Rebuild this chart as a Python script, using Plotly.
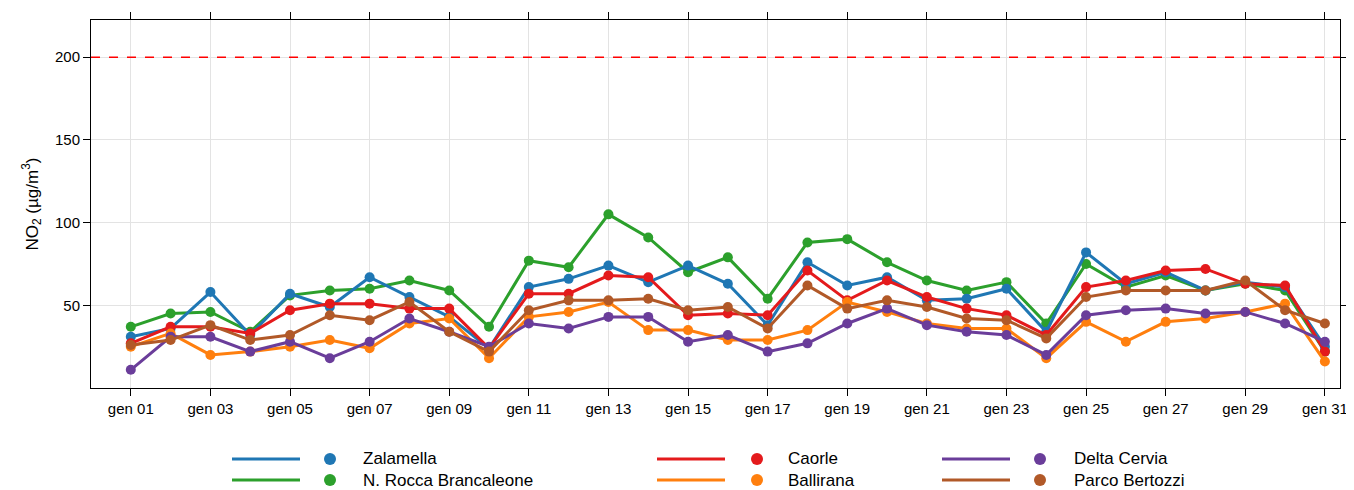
import plotly.graph_objects as go

days = list(range(1, 32))
tick_vals = list(range(1, 32, 2))
tick_text = ["gen %02d" % d for d in tick_vals]

zalamella = [31,36,58,32,57,49,67,55,43,24,61,66,74,64,74,63,38,76,62,67,53,54,60,34,82,63,70,59,64,61,25]
rocca = [37,45,46,34,56,59,60,65,59,37,77,73,105,91,70,79,54,88,90,76,65,59,64,39,75,61,68,59,63,59,22]
caorle = [27,37,37,33,47,51,51,48,48,24,57,57,68,67,44,45,44,71,53,65,55,48,44,32,61,65,71,72,63,62,22]
ballirana = [25,33,20,22,25,29,24,39,42,18,43,46,52,35,35,29,29,35,52,46,39,36,36,18,40,28,40,42,46,51,16]
cervia = [11,31,31,22,28,18,28,42,34,25,39,36,43,43,28,32,22,27,39,48,38,34,32,20,44,47,48,45,46,39,28]
bertozzi = [26,29,38,29,32,44,41,52,34,22,47,53,53,54,47,49,36,62,48,53,49,42,41,30,55,59,59,59,65,47,39]

series = [
    ("Zalamella", zalamella, "#1f77b4"),
    ("N. Rocca Brancaleone", rocca, "#2ca02c"),
    ("Caorle", caorle, "#e41a1c"),
    ("Ballirana", ballirana, "#ff7f0e"),
    ("Delta Cervia", cervia, "#6a3d9a"),
    ("Parco Bertozzi", bertozzi, "#b15928"),
]
draw_order = [1, 0, 2, 3, 4, 5]

fig = go.Figure()
for i in draw_order:
    name, vals, col = series[i]
    fig.add_trace(go.Scatter(x=days, y=vals, mode="lines+markers", name=name,
                             line=dict(color=col, width=3), marker=dict(color=col, size=10),
                             showlegend=False))

fig.add_shape(type="line", xref="paper", x0=0, x1=1, yref="y", y0=200, y1=200,
              line=dict(color="red", width=1.5, dash="dash"))

W, H = 1249, 368
L, B = 91, 388
def px(x): return (x - L) / W
def py(y): return (B - y) / H
cols = [(232, 300, 330, 361), (657, 725, 757, 786), (942, 1010, 1040, 1072)]
rows = [459, 480]
layout_pos = [(0, 0), (0, 1), (1, 0), (1, 1), (2, 0), (2, 1)]
for (name, vals, col), (c, r) in zip(series, layout_pos):
    l0, l1, m, t = cols[c]
    y = py(rows[r])
    fig.add_shape(type="line", xref="paper", yref="paper", x0=px(l0), x1=px(l1), y0=y, y1=y,
                  line=dict(color=col, width=3))
    fig.add_shape(type="circle", xref="paper", yref="paper",
                  x0=px(m - 6), x1=px(m + 6), y0=py(rows[r] + 6), y1=py(rows[r] - 6),
                  fillcolor=col, line=dict(color=col, width=0))
    fig.add_annotation(text=name, xref="paper", yref="paper", x=px(t), y=y,
                       xanchor="left", yanchor="middle", showarrow=False,
                       font=dict(size=17, color="black"))

fig.update_layout(
    width=1354, height=490, plot_bgcolor="white", paper_bgcolor="white",
    margin=dict(l=83, r=22, t=4, b=110),
    font=dict(family="Liberation Sans, Arial", size=15, color="black"),
    showlegend=False,
)
fig.update_xaxes(range=[0, 31.38], tickvals=tick_vals, ticktext=tick_text,
                 showgrid=True, gridcolor="#e3e3e3", gridwidth=1,
                 showline=True, linecolor="black", linewidth=1, mirror="ticks",
                 ticks="outside", ticklen=7, tickcolor="black", zeroline=False)
fig.update_yaxes(range=[0, 222.5], tickvals=[50, 100, 150, 200],
                 showgrid=True, gridcolor="#e3e3e3", gridwidth=1,
                 showline=True, linecolor="black", linewidth=1, mirror="ticks",
                 ticks="outside", ticklen=7, tickcolor="black", zeroline=False,
                 title=dict(text="NO<sub>2</sub> (µg/m<sup>3</sup>)", font=dict(size=17), standoff=12))

fig.write_html("out.html")
